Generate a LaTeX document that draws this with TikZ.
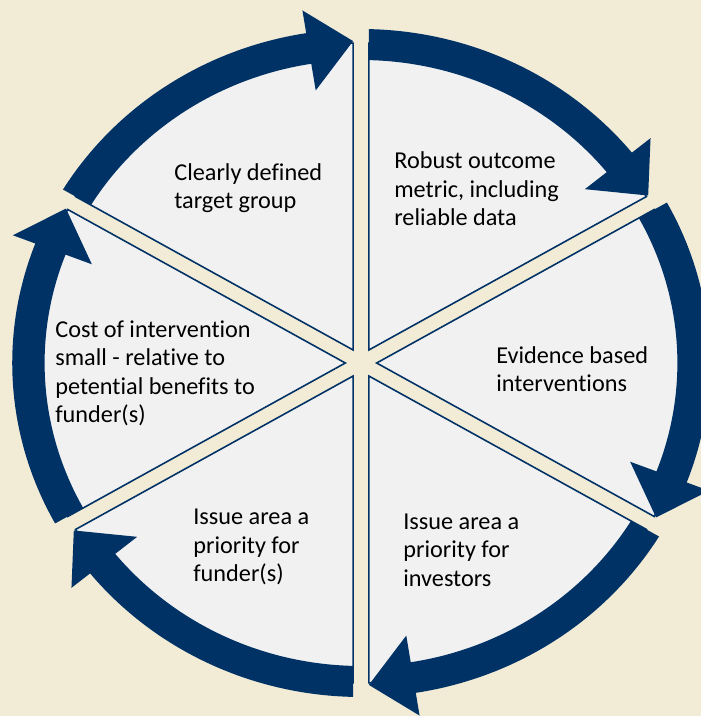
\documentclass[tikz,border=0pt]{standalone}
\usepackage{fontspec}
\setmainfont{Carlito}[Ligatures=NoCommon]
\usepackage{tikz}
\definecolor{navy}{RGB}{0,50,102}
\definecolor{cream}{RGB}{242,235,214}
\definecolor{panel}{RGB}{241,241,241}

\begin{document}
\begin{tikzpicture}[scale=0.02]
\tikzstyle{every node}+=[inner sep=0pt]
\tikzstyle{wedge}=[fill=panel, draw=navy, line width=0.9pt]
\tikzstyle{band}=[fill=navy]
\tikzstyle{cyclelabel}=[anchor=west, align=left, font=\fontsize{13.8}{16.2}\selectfont]
\fill [cream] (-361,-353) rectangle (340,363);
\clip (-361,-353) rectangle (340,363);
\begin{scope}[xscale=1.045]
% six panels
\draw [wedge] (60:15) -- (88.66:320) arc (88.66:31.34:320) -- cycle;
\draw [wedge] (0:15) -- (28.66:320) arc (28.66:-28.66:320) -- cycle;
\draw [wedge] (-60:15) -- (-31.34:320) arc (-31.34:-88.66:320) -- cycle;
\draw [wedge] (-120:15) -- (-91.34:320) arc (-91.34:-148.66:320) -- cycle;
\draw [wedge] (180:15) -- (-151.34:320) arc (-151.34:-208.66:320) -- cycle;
\draw [wedge] (120:15) -- (148.66:320) arc (148.66:91.34:320) -- cycle;
% arrows, clockwise
\fill [band] (88.71:334) arc (88.71:39.04:334) -- (39.04:357) -- (31.34:322) -- (39.04:276) -- (39.04:303) arc (39.04:88.58:303) -- cycle;
\fill [band] (28.71:334) arc (28.71:-20.96:334) -- (-20.96:357) -- (-28.66:322) -- (-20.96:276) -- (-20.96:303) arc (-20.96:28.58:303) -- cycle;
\fill [band] (-31.29:334) arc (-31.29:-80.96:334) -- (-80.96:357) -- (-88.66:322) -- (-80.96:276) -- (-80.96:303) arc (-80.96:-31.42:303) -- cycle;
\fill [band] (-91.29:334) arc (-91.29:-140.96:334) -- (-140.96:357) -- (-148.66:322) -- (-140.96:276) -- (-140.96:303) arc (-140.96:-91.42:303) -- cycle;
\fill [band] (-151.29:334) arc (-151.29:-200.96:334) -- (-200.96:357) -- (-208.66:322) -- (-200.96:276) -- (-200.96:303) arc (-200.96:-151.42:303) -- cycle;
\fill [band] (148.71:334) arc (148.71:99.04:334) -- (99.04:357) -- (91.34:322) -- (99.04:276) -- (99.04:303) arc (99.04:148.58:303) -- cycle;
\end{scope}
% texts
\node [cyclelabel] (target) at (-187,175) {Clearly defined\\target group};
\node [cyclelabel] (metric) at (33,174) {Robust outcome\\metric, including\\reliable data};
\node [cyclelabel] (evidence) at (135,-6) {Evidence based\\interventions};
\node [cyclelabel] (investors) at (42,-187) {Issue area a\\priority for\\investors};
\node [cyclelabel] (funders) at (-168,-184) {Issue area a\\priority for\\funder(s)};
\node [cyclelabel] (cost) at (-306,-10.5) {Cost of intervention\\small - relative to\\petential benefits to\\funder(s)};
\end{tikzpicture}
\end{document}
